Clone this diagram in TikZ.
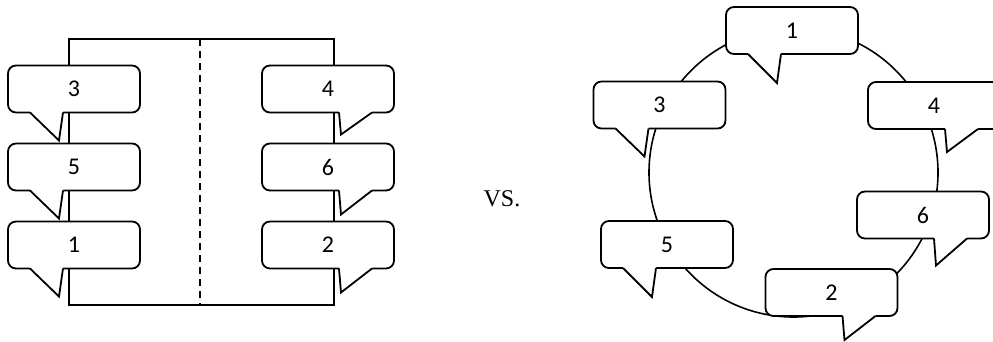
\documentclass[tikz,border=0pt]{standalone}
\usepackage{fontspec}
\setmainfont{Carlito}
\newfontfamily\vsfont{Liberation Serif}
\usetikzlibrary{calc}

\tikzset{
  bubble/.style={draw, line width=1.8pt, fill=white, rounded corners=8pt,
    minimum width=132pt, minimum height=47pt, inner sep=0pt, outer sep=0pt,
    font=\fontsize{24}{28}\selectfont},
  frame/.style={line width=1.6pt},
  divider/.style={line width=1.6pt, dash pattern=on 7pt off 5pt},
  tailline/.style={line width=1.8pt, line join=miter, miter limit=20},
}

% speech-bubble tail near the left part of the bottom edge, pointing down
\newcommand\tailleft[2]{%
  \fill[white] ($(#1.south west)+(22,-1.5)$) -- ($(#1.south west)+(22,0)$)
    -- ($(#1.south west)+(51,#2)$) -- ($(#1.south west)+(55,0)$)
    -- ($(#1.south west)+(55,-1.5)$) -- cycle;
  \draw[tailline] ($(#1.south west)+(22,0)$) -- ($(#1.south west)+(51,#2)$)
    -- ($(#1.south west)+(55,0)$);
}
% speech-bubble tail near the right part of the bottom edge, pointing down
\newcommand\tailright[2]{%
  \fill[white] ($(#1.south west)+(77,-1.5)$) -- ($(#1.south west)+(77,0)$)
    -- ($(#1.south west)+(79,#2)$) -- ($(#1.south west)+(110,0)$)
    -- ($(#1.south west)+(110,-1.5)$) -- cycle;
  \draw[tailline] ($(#1.south west)+(77,0)$) -- ($(#1.south west)+(79,#2)$)
    -- ($(#1.south west)+(110,0)$);
}

\begin{document}
\begin{tikzpicture}[x=1pt, y=-1pt]
\useasboundingbox (0,0) rectangle (993,341);
\clip (0,0) rectangle (993,341);

% ---- two-column arrangement ----
\draw[frame] (69,39) rectangle (334,305);
\draw[divider] (200,39) -- (200,305);

\node[bubble] (a3) at (74,89)  {3};  \tailleft{a3}{28}
\node[bubble] (a5) at (74,167) {5};  \tailleft{a5}{28}
\node[bubble] (a1) at (74,245) {1};  \tailleft{a1}{28}

\node[bubble] (a4) at (328,89)  {4}; \tailright{a4}{22}
\node[bubble] (a6) at (328,167) {6}; \tailright{a6}{24}
\node[bubble] (a2) at (328,245) {2}; \tailright{a2}{24}

% ---- comparison label ----
\node[font=\vsfont\fontsize{24}{28}\selectfont] (vs) at (502,199) {VS.};

% ---- ring arrangement ----
\draw[frame] (793.5,172.5) circle[radius=144.5];

\node[bubble] (b1) at (792,30.5)   {1}; \tailleft{b1}{29}
\node[bubble] (b3) at (659.5,105)  {3}; \tailleft{b3}{28}
\node[bubble] (b4) at (934,105.5)  {4}; \tailright{b4}{23}
\node[bubble] (b6) at (923,215)    {6}; \tailright{b6}{27}
\node[bubble] (b5) at (667,244.5)  {5}; \tailleft{b5}{29}
\node[bubble] (b2) at (831.5,292.5){2}; \tailright{b2}{24}
\end{tikzpicture}
\end{document}
